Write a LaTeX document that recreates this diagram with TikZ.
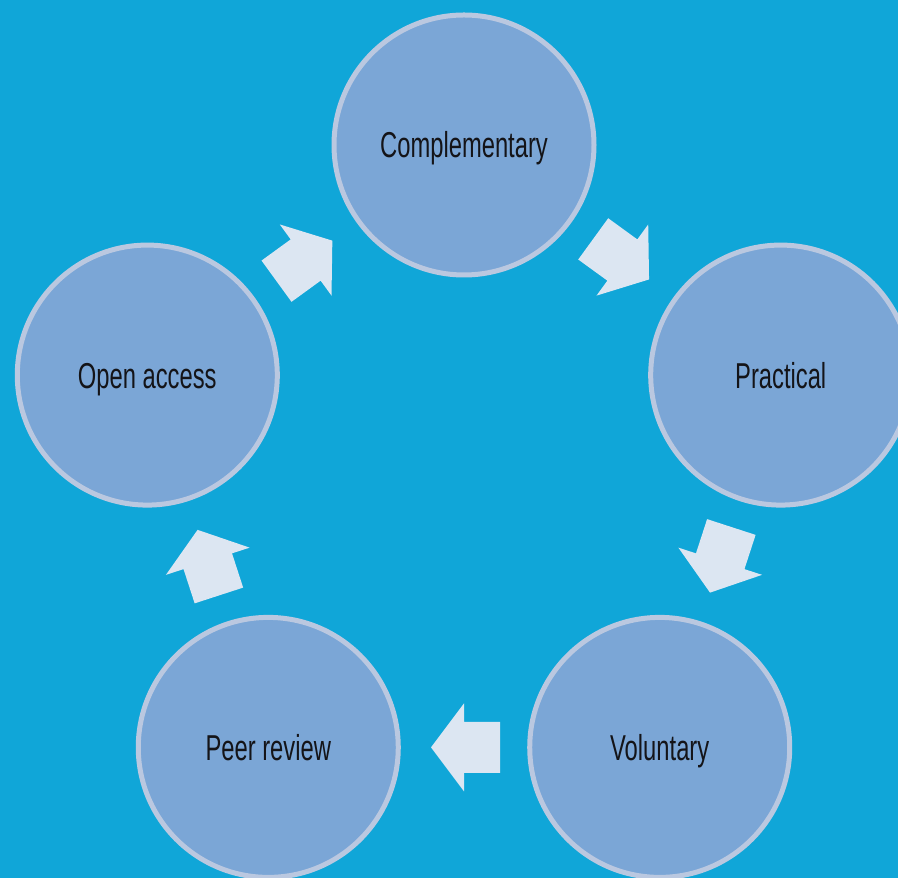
\documentclass[tikz,border=0pt]{standalone}
\usepackage{fontspec}
\setmainfont{Liberation Sans}[FakeStretch=0.66]
\usetikzlibrary{calc}
\definecolor{bgblue}{RGB}{16,166,216}
\definecolor{circfill}{RGB}{123,166,214}
\definecolor{circline}{RGB}{186,200,224}
\definecolor{arrowfill}{RGB}{220,230,242}
\definecolor{txt}{RGB}{20,20,24}
\tikzset{
  cyclenode/.style={circle, fill=circfill, draw=circline, line width=5pt,
    minimum size=260pt, inner sep=0pt, text=txt, text height=26pt, text depth=0pt,
    font=\fontsize{36}{43}\selectfont},
  blockarrow/.pic={
    \fill[arrowfill] (33pt,0) -- (0,44pt) -- (0,25.5pt) -- (-36pt,25.5pt)
      -- (-36pt,-25.5pt) -- (0,-25.5pt) -- (0,-44pt) -- cycle;
  }
}
\begin{document}
\begin{tikzpicture}[x=1pt,y=1pt]
\useasboundingbox (0,0) rectangle (898,878);
\clip (0,0) rectangle (898,878);
\fill[bgblue] (0,0) rectangle (898,878);
\coordinate (ctr) at (464,400);
\node[cyclenode] (c1) at ($(ctr)+(90:333)$) {Complementary};
\node[cyclenode] (c2) at ($(ctr)+(18:333)$) {Practical};
\node[cyclenode] (c3) at ($(ctr)+(-54:333)$) {Voluntary};
\node[cyclenode] (c4) at ($(ctr)+(-126:333)$) {Peer review};
\node[cyclenode] (c5) at ($(ctr)+(162:333)$) {Open access};
\pic[rotate=-36] at ($(c1)!0.5!(c2)$) {blockarrow};
\pic[rotate=-108] at ($(c2)!0.5!(c3)$) {blockarrow};
\pic[rotate=180] at ($(c3)!0.5!(c4)$) {blockarrow};
\pic[rotate=108] at ($(c4)!0.5!(c5)$) {blockarrow};
\pic[rotate=36] at ($(c5)!0.5!(c1)$) {blockarrow};
\end{tikzpicture}
\end{document}
